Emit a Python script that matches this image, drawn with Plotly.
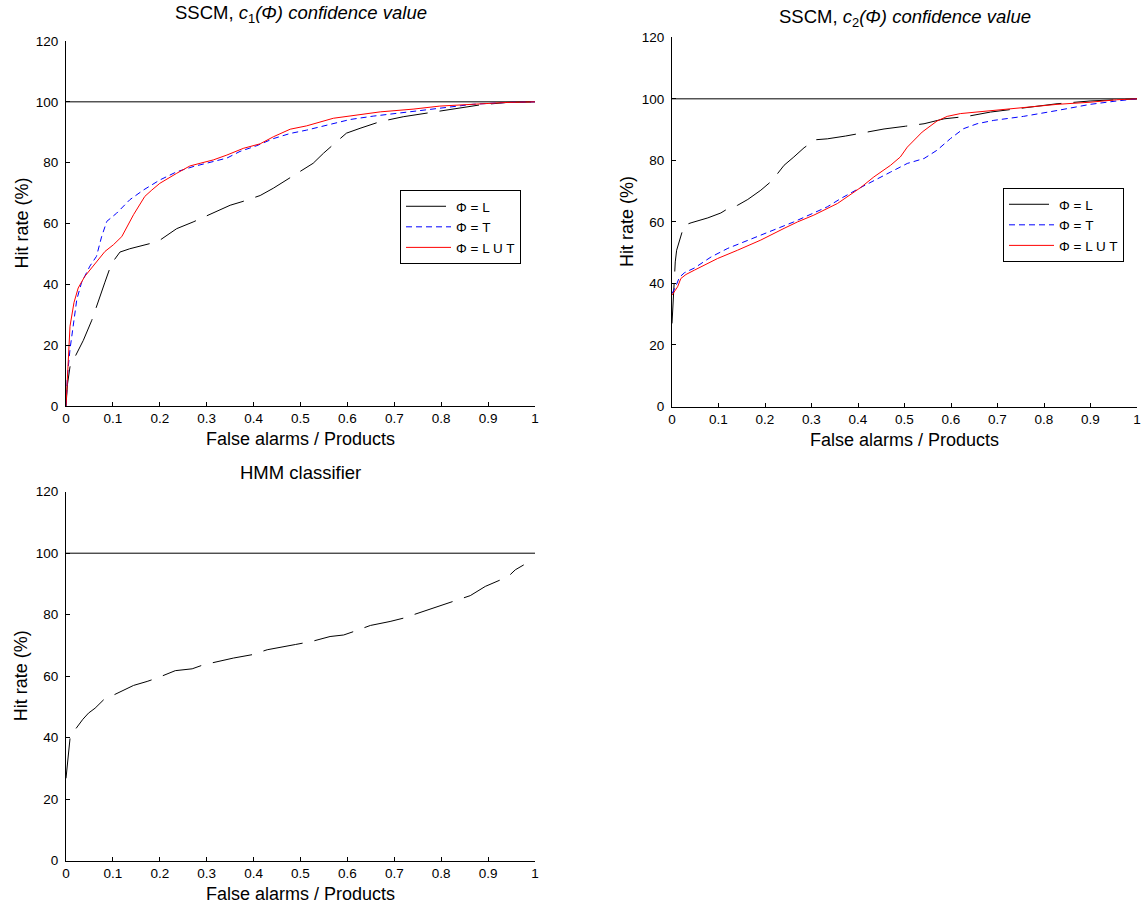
import plotly.graph_objects as go

W, H = 1143, 905

# ---------- data ----------
# Panel 1: SSCM, c1(Phi)
p1_L_x = [0, 0.003, 0.0085, 0.023, 0.037, 0.055, 0.069, 0.083, 0.097, 0.115, 0.136, 0.179, 0.2, 0.236, 0.271, 0.307, 0.35, 0.378, 0.414, 0.442, 0.478, 0.499, 0.527, 0.549, 0.577, 0.598, 0.627, 0.67, 0.719, 0.769, 0.826, 0.883, 0.94, 1.0]
p1_L_y = [0, 7, 12.9, 17.3, 21.6, 28.2, 34.7, 40.7, 46.8, 50.6, 51.7, 53.4, 54.5, 58.3, 60.5, 63.0, 66.0, 67.3, 69.2, 71.6, 74.9, 77.1, 79.8, 83.1, 86.9, 89.7, 91.3, 93.5, 95.1, 96.3, 97.7, 99.0, 99.8, 100]
p1_T_x = [0, 0.003, 0.0085, 0.016, 0.023, 0.033, 0.051, 0.065, 0.076, 0.087, 0.108, 0.136, 0.165, 0.2, 0.236, 0.271, 0.307, 0.343, 0.371, 0.407, 0.442, 0.478, 0.513, 0.556, 0.606, 0.655, 0.705, 0.755, 0.81, 0.868, 0.94, 1.0]
p1_T_y = [0, 9.8, 18.6, 27.3, 35.0, 40.5, 46.0, 49.2, 55.7, 60.7, 63.4, 67.8, 71.0, 74.3, 77.0, 78.7, 80.0, 81.5, 83.7, 85.6, 87.9, 89.6, 90.7, 92.3, 94.2, 95.3, 96.2, 97.0, 98.1, 99.2, 99.8, 100]
p1_LT_x = [0, 0.0085, 0.017, 0.026, 0.04, 0.062, 0.083, 0.101, 0.119, 0.144, 0.168, 0.183, 0.2, 0.236, 0.264, 0.286, 0.314, 0.343, 0.378, 0.414, 0.442, 0.478, 0.513, 0.57, 0.62, 0.67, 0.74, 0.797, 0.868, 0.94, 1.0]
p1_LT_y = [0, 26.2, 34.0, 38.8, 42.6, 47.0, 50.8, 53.0, 55.7, 62.9, 68.9, 71.0, 73.2, 76.5, 78.9, 79.8, 80.9, 82.5, 84.7, 86.2, 88.5, 91.0, 92.1, 94.6, 95.6, 96.7, 97.6, 98.6, 99.2, 99.8, 100]

# Panel 2: SSCM, c2(Phi)
p2_L_x = [0, 0.004, 0.007, 0.01, 0.026, 0.041, 0.077, 0.105, 0.12, 0.141, 0.163, 0.191, 0.212, 0.227, 0.241, 0.262, 0.284, 0.309, 0.334, 0.373, 0.41, 0.456, 0.502, 0.542, 0.585, 0.635, 0.685, 0.756, 0.828, 0.899, 1.0]
p2_L_y = [27, 41.6, 47.0, 50.8, 58.9, 59.7, 61.3, 62.9, 64.3, 65.4, 67.3, 70.3, 73.0, 75.7, 78.4, 81.1, 84.1, 86.7, 87.0, 87.9, 88.9, 90.2, 91.1, 91.9, 93.5, 94.3, 95.7, 97.1, 98.4, 99.3, 100]
p2_T_x = [0, 0.008, 0.016, 0.027, 0.048, 0.084, 0.12, 0.19, 0.262, 0.334, 0.363, 0.406, 0.434, 0.47, 0.506, 0.542, 0.57, 0.599, 0.627, 0.656, 0.692, 0.756, 0.828, 0.899, 0.956, 1.0]
p2_T_y = [36.7, 39.0, 42.0, 43.5, 45.0, 48.6, 51.4, 55.7, 60.0, 64.9, 67.6, 71.2, 73.5, 76.2, 79.0, 80.6, 83.3, 87.1, 90.3, 91.9, 93.0, 94.3, 96.2, 98.2, 99.3, 100]
p2_LT_x = [0, 0.005, 0.012, 0.019, 0.03, 0.048, 0.069, 0.098, 0.141, 0.191, 0.241, 0.27, 0.305, 0.356, 0.406, 0.434, 0.47, 0.491, 0.506, 0.538, 0.57, 0.592, 0.62, 0.685, 0.756, 0.828, 0.899, 0.956, 1.0]
p2_LT_y = [36.2, 37.3, 38.9, 41.6, 42.9, 44.3, 46.0, 48.1, 50.8, 54.1, 57.9, 60.0, 62.2, 66.0, 71.2, 74.6, 78.4, 81.1, 84.3, 89.2, 92.8, 94.3, 95.2, 96.2, 97.1, 98.2, 98.9, 99.7, 100]

# Panel 3: HMM classifier
p3_x = [0, 0.0057, 0.009, 0.015, 0.036, 0.048, 0.062, 0.08, 0.112, 0.144, 0.173, 0.194, 0.233, 0.269, 0.293, 0.357, 0.397, 0.429, 0.489, 0.524, 0.563, 0.592, 0.613, 0.649, 0.691, 0.72, 0.741, 0.773, 0.812, 0.862, 0.894, 0.926, 0.947, 0.958, 0.976]
p3_y = [26.8, 35.5, 40.4, 41.7, 46.0, 48.0, 49.6, 52.3, 54.7, 57.0, 58.3, 59.4, 61.8, 62.4, 63.7, 65.9, 67.0, 68.6, 70.3, 71.3, 72.9, 73.4, 74.5, 76.5, 77.8, 78.9, 80.0, 81.6, 83.5, 86.2, 89.2, 91.3, 93.0, 94.6, 96.2]

REF_LEVEL = 100
X_RANGE = [0, 1]
Y_RANGE = [0, 120]
x_ticks = [0, 0.1, 0.2, 0.3, 0.4, 0.5, 0.6, 0.7, 0.8, 0.9, 1]
x_tick_text = ["0", "0.1", "0.2", "0.3", "0.4", "0.5", "0.6", "0.7", "0.8", "0.9", "1"]
y_ticks = [0, 20, 40, 60, 80, 100, 120]

names = ["Φ = L", "Φ = T", "Φ = L U T"]
titles = ["SSCM, <i>c</i><sub>1</sub><i>(Φ) confidence value</i>",
          "SSCM, <i>c</i><sub>2</sub><i>(Φ) confidence value</i>",
          "HMM classifier"]
x_title = "False alarms / Products"
y_title = "Hit rate (%)"

# ---------- styling ----------
FONT = "Liberation Sans, Arial, sans-serif"
BLACK_DASH = "40px,12px"
BLUE_DASH = "6px,4px"

def px(x):
    return x / W

def py(y):
    return 1 - y / H

# panel pixel boxes (left, right, top, bottom) and title centre y
boxes = [(66, 535, 41, 406), (672, 1137, 37.3, 406.5), (66, 535, 491.7, 860.7)]
title_y = [14, 18, 472]

fig = go.Figure()

def add_ref(xa, ya):
    fig.add_trace(go.Scatter(x=X_RANGE, y=[REF_LEVEL, REF_LEVEL], mode="lines",
                             line=dict(color="#000000", width=1), xaxis=xa, yaxis=ya,
                             showlegend=False, hoverinfo="skip"))

# Panel 1
add_ref("x", "y")
fig.add_trace(go.Scatter(x=p1_L_x, y=p1_L_y, name=names[0], mode="lines",
                         line=dict(color="#000000", width=1, dash=BLACK_DASH), xaxis="x", yaxis="y", legend="legend"))
fig.add_trace(go.Scatter(x=p1_T_x, y=p1_T_y, name=names[1], mode="lines",
                         line=dict(color="#0000ff", width=1, dash=BLUE_DASH), xaxis="x", yaxis="y", legend="legend"))
fig.add_trace(go.Scatter(x=p1_LT_x, y=p1_LT_y, name=names[2], mode="lines",
                         line=dict(color="#ff0000", width=1), xaxis="x", yaxis="y", legend="legend"))
# Panel 2
add_ref("x2", "y2")
fig.add_trace(go.Scatter(x=p2_L_x, y=p2_L_y, name=names[0], mode="lines",
                         line=dict(color="#000000", width=1, dash=BLACK_DASH), xaxis="x2", yaxis="y2", legend="legend2"))
fig.add_trace(go.Scatter(x=p2_T_x, y=p2_T_y, name=names[1], mode="lines",
                         line=dict(color="#0000ff", width=1, dash=BLUE_DASH), xaxis="x2", yaxis="y2", legend="legend2"))
fig.add_trace(go.Scatter(x=p2_LT_x, y=p2_LT_y, name=names[2], mode="lines",
                         line=dict(color="#ff0000", width=1), xaxis="x2", yaxis="y2", legend="legend2"))
# Panel 3
add_ref("x3", "y3")
fig.add_trace(go.Scatter(x=p3_x, y=p3_y, name="HMM", mode="lines",
                         line=dict(color="#000000", width=1, dash=BLACK_DASH), xaxis="x3", yaxis="y3", showlegend=False))

axis_common = dict(showline=True, linecolor="#000000", linewidth=1, mirror=False,
                   ticks="inside", ticklen=4, tickcolor="#000000", tickwidth=1,
                   showgrid=False, zeroline=False,
                   tickfont=dict(family=FONT, size=13.5, color="#000000"))

layout = dict(width=W, height=H, paper_bgcolor="white", plot_bgcolor="white",
              margin=dict(l=0, r=0, t=0, b=0, autoexpand=False),
              font=dict(family=FONT, color="#000000"))

axis_ids = [("xaxis", "yaxis", "y", "x"), ("xaxis2", "yaxis2", "y2", "x2"), ("xaxis3", "yaxis3", "y3", "x3")]
annotations = []
for (xk, yk, yanchor_id, xanchor_id), (l, r, t, b), title, ty in zip(axis_ids, boxes, titles, title_y):
    layout[xk] = dict(axis_common, domain=[px(l), px(r)], range=X_RANGE, anchor=yanchor_id,
                      tickvals=x_ticks, ticktext=x_tick_text)
    layout[yk] = dict(axis_common, domain=[py(b), py(t)], range=Y_RANGE, anchor=xanchor_id,
                      tickvals=y_ticks, ticklabelstandoff=4)
    cx = (l + r) / 2
    annotations.append(dict(text=title, x=px(cx), y=py(ty), xref="paper", yref="paper",
                            xanchor="center", yanchor="middle", showarrow=False,
                            font=dict(family=FONT, size=18.5, color="#000000")))
    annotations.append(dict(text=x_title, x=px(cx), y=py(b + 33), xref="paper", yref="paper",
                            xanchor="center", yanchor="middle", showarrow=False,
                            font=dict(family=FONT, size=18, color="#000000")))
    annotations.append(dict(text=y_title, x=px(l - 45), y=py((t + b) / 2), xref="paper", yref="paper",
                            xanchor="center", yanchor="middle", showarrow=False, textangle=-90,
                            font=dict(family=FONT, size=18, color="#000000")))

layout["annotations"] = annotations
leg_common = dict(bgcolor="white", bordercolor="#000000", borderwidth=1,
                  font=dict(family=FONT, size=13.5, color="#000000"),
                  xanchor="left", yanchor="top", tracegroupgap=0, itemwidth=45)
layout["legend"] = dict(leg_common, x=px(400), y=py(190))
layout["legend2"] = dict(leg_common, x=px(1003), y=py(188))
layout["showlegend"] = True

fig.update_layout(**layout)
fig.write_html("out.html", config={"displayModeBar": False},
               post_script="document.body.style.margin='0';document.body.style.padding='0';")
